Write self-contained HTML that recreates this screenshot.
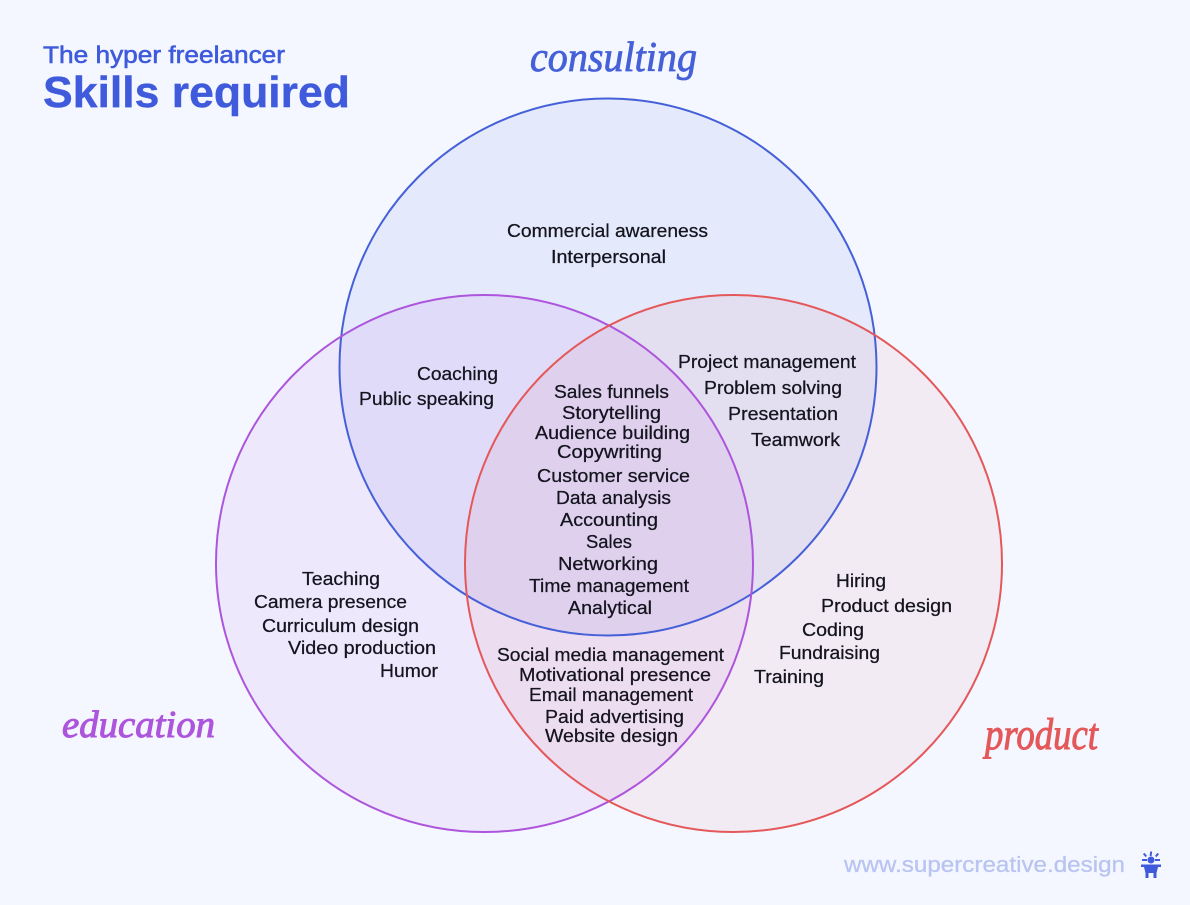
<!DOCTYPE html>
<html><head><meta charset="utf-8"><title>Skills required</title>
<style>
html,body{margin:0;padding:0;background:#f4f7ff;width:1190px;height:905px;overflow:hidden}
svg{display:block}
text{font-family:"Liberation Sans",sans-serif}
.t text{font-size:18px;fill:#14141f;stroke:#14141f;stroke-width:.25px}
.h{font-family:"Liberation Serif",serif;font-style:italic}
</style></head><body>
<svg width="1190" height="905" viewBox="0 0 1190 905" xmlns="http://www.w3.org/2000/svg">
<rect width="1190" height="905" fill="#f4f7ff"/>
<circle cx="608" cy="367" r="268.5" fill="#3d5bdc" fill-opacity=".085"/>
<circle cx="484.500" cy="563.500" r="268.500" fill="#a94fdc" fill-opacity=".085"/>
<circle cx="733.500" cy="563.500" r="268.500" fill="#e2524f" fill-opacity=".07"/>
<circle cx="608" cy="367" r="268.5" fill="none" stroke="#4660d8" stroke-width="2"/>
<circle cx="484.500" cy="563.500" r="268.500" fill="none" stroke="#ad55dc" stroke-width="2"/>
<circle cx="733.500" cy="563.500" r="268.500" fill="none" stroke="#e4585a" stroke-width="2"/>

<text x="43" y="63" font-size="24" fill="#3f5bdc" stroke="#3f5bdc" stroke-width=".6" textLength="242" lengthAdjust="spacingAndGlyphs">The hyper freelancer</text>
<text x="43" y="107" font-size="44" font-weight="700" fill="#3f5bdc" stroke="#3f5bdc" stroke-width=".4" textLength="307" lengthAdjust="spacingAndGlyphs">Skills required</text>

<text class="h" x="530" y="71" font-size="42" fill="#4660d8" stroke="#4660d8" stroke-width=".8" textLength="167" lengthAdjust="spacingAndGlyphs">consulting</text>
<text class="h" x="62" y="737" font-size="38" fill="#ad55dc" stroke="#ad55dc" stroke-width="1" textLength="153" lengthAdjust="spacingAndGlyphs">education</text>
<text class="h" x="985" y="749" font-size="44" fill="#e4585a" stroke="#e4585a" stroke-width="1" textLength="113" lengthAdjust="spacingAndGlyphs">product</text>

<g class="t">
<text x="507" y="237" textLength="201" lengthAdjust="spacingAndGlyphs">Commercial awareness</text>
<text x="551" y="263" textLength="115" lengthAdjust="spacingAndGlyphs">Interpersonal</text>
<text x="417" y="380" textLength="81" lengthAdjust="spacingAndGlyphs">Coaching</text>
<text x="359" y="405" textLength="135" lengthAdjust="spacingAndGlyphs">Public speaking</text>
<text x="678" y="368" textLength="178" lengthAdjust="spacingAndGlyphs">Project management</text>
<text x="704" y="394" textLength="138" lengthAdjust="spacingAndGlyphs">Problem solving</text>
<text x="728" y="420" textLength="110" lengthAdjust="spacingAndGlyphs">Presentation</text>
<text x="751" y="446" textLength="89" lengthAdjust="spacingAndGlyphs">Teamwork</text>
<text x="554" y="398" textLength="115" lengthAdjust="spacingAndGlyphs">Sales funnels</text>
<text x="562" y="419" textLength="99" lengthAdjust="spacingAndGlyphs">Storytelling</text>
<text x="535" y="439" textLength="155" lengthAdjust="spacingAndGlyphs">Audience building</text>
<text x="557" y="458" textLength="105" lengthAdjust="spacingAndGlyphs">Copywriting</text>
<text x="537" y="482" textLength="153" lengthAdjust="spacingAndGlyphs">Customer service</text>
<text x="556" y="504" textLength="115" lengthAdjust="spacingAndGlyphs">Data analysis</text>
<text x="560" y="526" textLength="98" lengthAdjust="spacingAndGlyphs">Accounting</text>
<text x="586" y="548" textLength="46" lengthAdjust="spacingAndGlyphs">Sales</text>
<text x="558" y="570" textLength="100" lengthAdjust="spacingAndGlyphs">Networking</text>
<text x="529" y="592" textLength="160" lengthAdjust="spacingAndGlyphs">Time management</text>
<text x="568" y="614" textLength="84" lengthAdjust="spacingAndGlyphs">Analytical</text>
<text x="497" y="661" textLength="227" lengthAdjust="spacingAndGlyphs">Social media management</text>
<text x="519" y="681" textLength="192" lengthAdjust="spacingAndGlyphs">Motivational presence</text>
<text x="529" y="701" textLength="164" lengthAdjust="spacingAndGlyphs">Email management</text>
<text x="545" y="723" textLength="139" lengthAdjust="spacingAndGlyphs">Paid advertising</text>
<text x="545" y="742" textLength="133" lengthAdjust="spacingAndGlyphs">Website design</text>
<text x="302" y="585" textLength="78" lengthAdjust="spacingAndGlyphs">Teaching</text>
<text x="254" y="608" textLength="153" lengthAdjust="spacingAndGlyphs">Camera presence</text>
<text x="262" y="632" textLength="157" lengthAdjust="spacingAndGlyphs">Curriculum design</text>
<text x="288" y="654" textLength="148" lengthAdjust="spacingAndGlyphs">Video production</text>
<text x="380" y="677" textLength="58" lengthAdjust="spacingAndGlyphs">Humor</text>
<text x="836" y="587" textLength="50" lengthAdjust="spacingAndGlyphs">Hiring</text>
<text x="821" y="612" textLength="131" lengthAdjust="spacingAndGlyphs">Product design</text>
<text x="802" y="636" textLength="62" lengthAdjust="spacingAndGlyphs">Coding</text>
<text x="779" y="659" textLength="101" lengthAdjust="spacingAndGlyphs">Fundraising</text>
<text x="754" y="683" textLength="70" lengthAdjust="spacingAndGlyphs">Training</text>
</g>

<text x="844" y="872" font-size="22" fill="#b9c4f1" stroke="#b9c4f1" stroke-width=".3" textLength="281" lengthAdjust="spacingAndGlyphs">www.supercreative.design</text>
<g fill="#3f5bdc">
<circle cx="1151" cy="860" r="3.500"/>
<rect x="1141" y="864.500" width="20" height="2.500"/>
<path d="M1144 867h14l-1.500 6v5h-3v-5h-5v5h-3v-5z"/>
<rect x="1150" y="851.500" width="2" height="4.500" transform="rotate(8 1151 853)"/>
<rect x="1142" y="859" width="5" height="2"/>
<rect x="1155" y="859" width="5" height="2"/>
<rect x="1144" y="853" width="2" height="4" transform="rotate(-40 1145 855)"/>
<rect x="1156" y="853" width="2" height="4" transform="rotate(40 1157 855)"/>
</g>
</svg>
</body></html>
